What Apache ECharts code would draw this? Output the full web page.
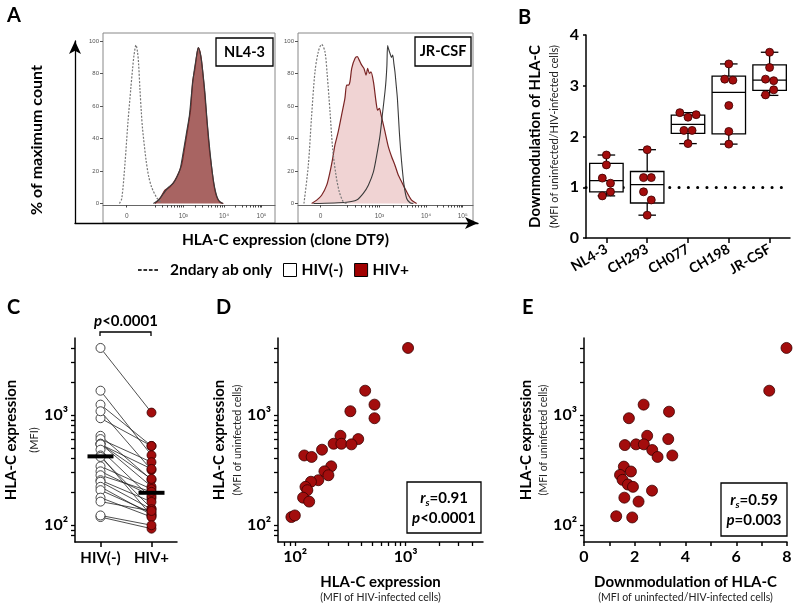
<!DOCTYPE html>
<html><head><meta charset="utf-8">
<script src="https://cdn.jsdelivr.net/npm/echarts@6/dist/echarts.min.js"></script>
<style>html,body{margin:0;padding:0;background:#fff}#c{width:800px;height:613px}</style>
</head><body><div id="c"></div>
<script>
// ---------------- DATA ----------------
// Panel A: flow histograms, x in display channel units (0-1000), y in % of max count
const a1TickPos = [138, 467, 703, 922];
const a2TickPos = [129, 465, 731, 941];
const aTickLabels = ['0', '10³', '10⁴', '10⁵'];
const aYTicks = [0, 20, 40, 60, 80, 100];

const nl43SecX = [95,109,128,145,161,172,180,192,201,207,215,223,230,250,265,283,316,341];
const nl43SecY = [0,3,25,50,70,83,91,97.6,93,86,70,56,46,27,17,10,3,0.5];
const nl43PosX = [302,331,360,390,419,438,457,477,496,510,521,535,545,554,564,574,587,603,618,632,645,661,680,700];
const nl43PosY = [0,3.1,8.2,10.3,14.4,18.5,23.6,36,48.3,58.6,75,83.2,91.4,95.9,93.5,87.3,72.9,52.4,33.9,21.6,11.3,4.1,0.8,0];
const nl43NegX = [293,322,351,380,409,428,448,467,486,502,515,529,541,554,568,579,593,606,622,637,653,672,696];
const nl43NegY = [0,2,6,10,12.5,16,21,32,44,54,68,81,89,96,91,82,68,50,32,18,8,2,0];

const jrSecX = [34,59,78,97,116,135,154,167,183,198,217,236,259,278];
const jrSecY = [0,23.6,54.4,81.1,93.5,98,93.5,79.1,56.5,33.9,17.5,7.2,1,0];
const jrPosX = [78,107,135,164,183,198,211,230,249,268,278,288,297,307,326,339,350,364,377,389,398,408,417,431,446,455,465,475,497,516,535,554,573,592,621,649,678];
const jrPosY = [0,2.1,5.1,11.3,19.5,27.7,36,44.2,54.4,64.7,72.9,72.9,75,83.2,89.4,90.4,88.3,85.2,83.2,79.1,83.2,80.1,81.1,75,62.6,57.5,58.6,54.4,44.2,35,28.8,23.6,17.5,13.4,7.2,2.1,0];
const jrNegX = [88,278,335,373,402,431,450,469,484,497,503,508,512,518,526,534,541,548,554,561,568,579,592,606,621,640,659];
const jrNegY = [0,0.8,2.1,6.2,11.3,19.5,29.8,42.1,56.5,68.8,76,85,97.2,95,92.4,90,91.4,86,81.1,73,64.7,44.2,25.7,11.3,3.1,0.5,0];

// Panel B: downmodulation per virus
const bCats = ['NL4-3', 'CH293', 'CH077', 'CH198', 'JR-CSF'];
const boxMin = [0.83, 0.45, 1.86, 1.85, 2.81];
const boxQ1  = [0.91, 0.69, 2.06, 2.05, 2.91];
const boxMed = [1.13, 1.05, 2.24, 2.87, 3.11];
const boxQ3  = [1.47, 1.31, 2.42, 3.19, 3.41];
const boxMax = [1.635, 1.74, 2.47, 3.43, 3.66];
const dotsNL43  = [1.635, 1.44, 1.18, 1.08, 0.91, 0.83];
const dotsCH293 = [1.74, 1.19, 1.19, 0.91, 0.75, 0.45];
const dotsCH077 = [2.47, 2.38, 2.43, 2.12, 2.12, 1.86];
const dotsCH198 = [3.43, 3.13, 3.11, 2.61, 2.10, 1.85];
const dotsJRCSF = [3.66, 3.36, 3.13, 3.10, 2.92, 2.82];
const jitNL43  = [0, 0, -0.1, 0.1, 0.1, -0.1];
const jitCH293 = [0, -0.09, 0.1, -0.09, 0.1, 0];
const jitCH077 = [-0.2, 0, 0.2, -0.1, 0.1, 0];
const jitCH198 = [0, -0.1, 0.1, 0, 0, 0];
const jitJRCSF = [0, 0, -0.1, 0.1, 0.1, -0.1];
const refLevel = 1;

// Panels C/D: MFI of uninfected (HIV(-)) and HIV-infected (HIV+) cells per donor
const mfiUninf = [4060,1660,1240,933,1080,646,603,547,547,540,483,428,415,341,307,283,255,247,222,207,177,163,118,122];
const mfiInf   = [1050,430,522,522,316,257,372,223,262,323,175,121,141,212,184,200,162,139,124,129,118,134,92.5,99.4];
const cCats = ['HIV(-)', 'HIV+'];
const cMeans = [420, 196];

// Panel E: downmodulation vs MFI of uninfected cells
const eDown = [7.98,7.30,2.35,3.35,1.77,2.49,3.32,1.61,2.05,2.36,2.69,2.90,3.48,1.57,1.85,1.42,1.52,1.73,1.93,2.68,1.59,2.15,1.27,1.90];
const eMfi  = [4060,1660,1240,1070,933,646,603,532,540,540,480,415,428,339,306,285,257,233,222,205,177,163,120,117];

const logTickVals = [100, 1000];
const logTickLabels = ['10²', '10³'];
const logMinorTicks = [80, 90, 200, 300, 400, 500, 600, 700, 800, 900, 2000, 3000, 4000];
const eLabelVals = [0, 2, 4, 6, 8];

// ---------------- HELPERS ----------------
const FONT = 'Lato';
const RED = '#a30d0d', RED_BORDER = '#3a0000';
const zip = (a, b) => a.map((x, i) => [x, b[i]]);
const axisBlack = {color: '#000', width: 1.5};
const tickFont = {fontFamily: FONT, fontWeight: 'bold', fontSize: 16, color: '#000'};
const logAllTicks = logTickVals.concat(logMinorTicks).sort((a, b) => a - b);

function histMinor(p) {
  const out = [];
  const d1 = p[2] - p[1], d2 = p[3] - p[2];
  for (let k = 2; k <= 9; k++) {
    const l = Math.log10(k);
    out.push(p[1] - d1 * (1 - l), p[1] + d1 * l, p[2] + d2 * l);
  }
  return out;
}
function histX(gridIndex, ticks) {
  return {type: 'value', gridIndex, min: 0, max: 1000, position: 'bottom', offset: -18,
     axisLine: {show: true, onZero: false, lineStyle: {color: '#666', width: 1}},
     axisTick: {show: true, customValues: ticks.concat(histMinor(ticks)).sort((a, b) => a - b), length: 2.5, lineStyle: {color: '#444'}},
     axisLabel: {customValues: ticks, formatter: v => aTickLabels[ticks.indexOf(Math.round(v))] ?? '',
                 fontSize: 6.5, color: '#555', margin: 8, fontFamily: 'Liberation Sans'},
     splitLine: {show: false}};
}
function histY(gridIndex) {
  return {type: 'value', gridIndex, min: -12, max: 105, position: 'left',
    axisLine: {show: false, onZero: false},
    axisTick: {show: true, customValues: aYTicks, length: 3, lineStyle: {color: '#555'}},
    axisLabel: {customValues: aYTicks, fontSize: 6, color: '#555', margin: 4, fontFamily: 'Liberation Sans'},
    splitLine: {show: false}};
}
function logAxis(gridIndex, pos, extra) {
  return Object.assign({type: 'log', gridIndex, min: 70, max: 5000, logBase: 10, position: pos,
      axisLine: {show: true, onZero: false, lineStyle: axisBlack},
      axisTick: {show: true, customValues: logAllTicks, length: 4, lineStyle: {color: '#000', width: 1.3}},
      axisLabel: Object.assign({customValues: logTickVals,
        formatter: v => logTickLabels[logTickVals.indexOf(Math.round(v))] ?? '', margin: 7}, tickFont),
      splitLine: {show: false}}, extra);
}
function twoLineName(main, sub, mainLH, subLH, subSize) {
  return {
    name: '{a|' + main + '}\n{b|' + sub + '}',
    nameLocation: 'middle',
    nameTextStyle: {rich: {
      a: {fontFamily: FONT, fontWeight: 'bold', fontSize: 15, lineHeight: mainLH, color: '#000'},
      b: {fontFamily: FONT, fontSize: subSize, lineHeight: subLH, color: '#222'}
    }}
  };
}
function oneLineName(text, size, padding) {
  return {
    name: '{a|' + text + '}', nameLocation: 'middle',
    nameTextStyle: {padding: padding, rich: {a: {fontFamily: FONT, fontWeight: 'bold', fontSize: size, lineHeight: size + 3, color: '#000'}}}
  };
}

// ---------------- OPTION ----------------
const grids = [
  {left: 75, top: 41, width: 403, height: 182},
  {left: 103, top: 33, width: 172, height: 190, show: true, borderColor: '#888', borderWidth: 1},
  {left: 298, top: 33, width: 175, height: 190, show: true, borderColor: '#888', borderWidth: 1},
  {left: 586, top: 35, width: 204, height: 203},
  {left: 75, top: 338, width: 102, height: 204},
  {left: 278, top: 338, width: 205, height: 204},
  {left: 584, top: 338, width: 203, height: 204}
];

const xAxes = [
  Object.assign({type: 'value', gridIndex: 0, min: 0, max: 1,
   axisLine: {show: true, onZero: false, symbol: ['none', 'arrow'], symbolSize: [9, 13], lineStyle: {color: '#000', width: 1.3}},
   axisTick: {show: false}, axisLabel: {show: false}, splitLine: {show: false}, nameGap: 8},
   oneLineName('HLA-C expression (clone DT9)', 15.5, [0, 0, 0, 18])),
  histX(1, a1TickPos),
  histX(2, a2TickPos),
  {type: 'category', gridIndex: 3, data: bCats, position: 'bottom',
   axisLine: {show: true, onZero: false, lineStyle: axisBlack},
   axisTick: {show: true, alignWithLabel: true, length: 5, lineStyle: axisBlack},
   axisLabel: {interval: 0, rotate: 30, fontFamily: FONT, fontWeight: 'bold', fontSize: 14, color: '#000', margin: 10},
   splitLine: {show: false}},
  {type: 'value', gridIndex: 3, min: -0.5, max: 4.5, show: false, position: 'bottom'},
  {type: 'category', gridIndex: 4, data: cCats, position: 'bottom',
   axisLine: {show: true, onZero: false, lineStyle: axisBlack},
   axisTick: {show: true, alignWithLabel: true, length: 5, lineStyle: axisBlack},
   axisLabel: Object.assign({interval: 0, margin: 9}, tickFont, {fontSize: 15}),
   splitLine: {show: false}},
  logAxis(5, 'bottom', Object.assign(twoLineName('HLA-C expression', '(MFI of HIV-infected cells)', 17, 13, 10.5), {nameGap: 32})),
  Object.assign({type: 'value', gridIndex: 6, min: 0, max: 8, interval: 1, position: 'bottom',
   axisLine: {show: true, onZero: false, lineStyle: axisBlack},
   axisTick: {show: true, length: 4, lineStyle: axisBlack},
   axisLabel: Object.assign({customValues: eLabelVals, margin: 7}, tickFont),
   splitLine: {show: false}, nameGap: 32},
   twoLineName('Downmodulation of HLA-C', '(MFI of uninfected/HIV-infected cells)', 17, 13, 10.5))
];

const yAxes = [
  Object.assign({type: 'value', gridIndex: 0, min: 0, max: 1,
   axisLine: {show: true, onZero: false, symbol: ['none', 'arrow'], symbolSize: [9, 13], lineStyle: {color: '#000', width: 1.3}},
   axisTick: {show: false}, axisLabel: {show: false}, splitLine: {show: false}, nameRotate: 90, nameGap: 29},
   oneLineName('% of maximum count', 16, [0, 16, 0, 0])),
  histY(1),
  histY(2),
  Object.assign({type: 'value', gridIndex: 3, min: 0, max: 4, interval: 1, position: 'left',
   axisLine: {show: true, onZero: false, lineStyle: axisBlack},
   axisTick: {show: true, length: 3, lineStyle: axisBlack},
   axisLabel: Object.assign({margin: 7}, tickFont),
   splitLine: {show: false}, nameRotate: 90, nameGap: 23},
   twoLineName('Downmodulation of HLA-C', '(MFI of uninfected/HIV-infected cells)', 20, 18, 11)),
  logAxis(4, 'left', Object.assign(twoLineName('HLA-C expression', '(MFI)', 26, 22, 11), {nameRotate: 90, nameGap: 25})),
  logAxis(5, 'left', Object.assign(twoLineName('HLA-C expression', '(MFI of uninfected cells)', 20, 17, 10.5), {nameRotate: 90, nameGap: 27})),
  logAxis(6, 'left', Object.assign(twoLineName('HLA-C expression', '(MFI of uninfected cells)', 19, 16, 10.5), {nameRotate: 90, nameGap: 29}))
];

function histSeries(xi, yi, posX, posY, negX, negY, secX, secY, fill) {
  return [
    {type: 'line', name: 'HIV+', xAxisIndex: xi, yAxisIndex: yi, data: zip(posX, posY), symbol: 'none', smooth: 0.25,
     lineStyle: {color: '#7a2424', width: 1.2}, areaStyle: {color: fill, opacity: 1}, itemStyle: {color: '#a00000'}, z: 2, silent: true},
    {type: 'line', name: 'HIV(-)', xAxisIndex: xi, yAxisIndex: yi, data: zip(negX, negY), symbol: 'none', smooth: 0.25,
     lineStyle: {color: '#3a3a3a', width: 1.1}, itemStyle: {color: '#fff'}, z: 3, silent: true},
    {type: 'line', name: '2ndary ab only', xAxisIndex: xi, yAxisIndex: yi, data: zip(secX, secY), symbol: 'none', smooth: 0.3,
     lineStyle: {color: '#777', width: 1.2, type: [2, 1.5]}, itemStyle: {color: '#333'}, z: 4, silent: true}
  ];
}

const bDots = [dotsNL43, dotsCH293, dotsCH077, dotsCH198, dotsJRCSF];
const bJit = [jitNL43, jitCH293, jitCH077, jitCH198, jitJRCSF];
const bDotData = bDots.flatMap((vals, i) => vals.map((v, j) => [i + bJit[i][j], v]));

const pairSeries = mfiUninf.map((u, i) => ({
  type: 'line', xAxisIndex: 5, yAxisIndex: 4, data: [u, mfiInf[i]], symbol: 'none',
  lineStyle: {color: '#222', width: 0.8}, z: 2, silent: true
}));

const series = [
  ...histSeries(1, 1, nl43PosX, nl43PosY, nl43NegX, nl43NegY, nl43SecX, nl43SecY, '#a86462'),
  ...histSeries(2, 2, jrPosX, jrPosY, jrNegX, jrNegY, jrSecX, jrSecY, '#f0d3d3'),
  {type: 'line', xAxisIndex: 4, yAxisIndex: 3, data: [], z: 1, silent: true,
   markLine: {silent: true, symbol: 'none', label: {show: false}, z: 1,
              lineStyle: {type: [0.1, 9.2], width: 3, color: '#000', cap: 'round'}, data: [{yAxis: refLevel}]}},
  {type: 'custom', xAxisIndex: 3, yAxisIndex: 3, z: 3, silent: true,
   data: bCats.map((c, i) => [i, boxMin[i], boxQ1[i], boxMed[i], boxQ3[i], boxMax[i]]),
   encode: {x: 0, y: [1, 2, 3, 4, 5]},
   renderItem: function (params, api) {
     const i = api.value(0);
     const pMin = api.coord([i, api.value(1)]), pQ1 = api.coord([i, api.value(2)]),
           pMed = api.coord([i, api.value(3)]), pQ3 = api.coord([i, api.value(4)]), pMax = api.coord([i, api.value(5)]);
     const band = api.size([1, 0])[0];
     const bw = band * 0.82, cw = band * 0.43, x = pMed[0];
     const ls = {stroke: '#000', lineWidth: 1.3, fill: null};
     return {type: 'group', children: [
       {type: 'line', shape: {x1: x, y1: pMax[1], x2: x, y2: pQ3[1]}, style: ls},
       {type: 'line', shape: {x1: x, y1: pQ1[1], x2: x, y2: pMin[1]}, style: ls},
       {type: 'line', shape: {x1: x - cw / 2, y1: pMax[1], x2: x + cw / 2, y2: pMax[1]}, style: ls},
       {type: 'line', shape: {x1: x - cw / 2, y1: pMin[1], x2: x + cw / 2, y2: pMin[1]}, style: ls},
       {type: 'rect', shape: {x: x - bw / 2, y: pQ3[1], width: bw, height: pQ1[1] - pQ3[1]}, style: {stroke: '#000', lineWidth: 1.3, fill: '#fff'}},
       {type: 'line', shape: {x1: x - bw / 2, y1: pMed[1], x2: x + bw / 2, y2: pMed[1]}, style: ls}
     ]};
   }},
  {type: 'scatter', xAxisIndex: 4, yAxisIndex: 3, data: bDotData, symbolSize: 8, z: 4, silent: true,
   itemStyle: {color: RED, borderColor: RED_BORDER, borderWidth: 0.8, opacity: 1}},
  ...pairSeries,
  {type: 'scatter', xAxisIndex: 5, yAxisIndex: 4, data: mfiUninf.map(v => [0, v]), symbolSize: 9, z: 3, silent: true,
   itemStyle: {color: '#fff', borderColor: '#333', borderWidth: 0.9, opacity: 1}},
  {type: 'scatter', xAxisIndex: 5, yAxisIndex: 4, data: mfiInf.map(v => [1, v]), symbolSize: 9, z: 3, silent: true,
   itemStyle: {color: RED, borderColor: RED_BORDER, borderWidth: 0.8, opacity: 1}},
  {type: 'scatter', xAxisIndex: 5, yAxisIndex: 4, data: cMeans.map((v, i) => [i, v]), symbol: 'rect', symbolSize: [26, 4], z: 4, silent: true,
   itemStyle: {color: '#000', opacity: 1}},
  {type: 'scatter', xAxisIndex: 6, yAxisIndex: 5, data: zip(mfiInf, mfiUninf), symbolSize: 11, z: 3, silent: true,
   itemStyle: {color: RED, borderColor: RED_BORDER, borderWidth: 0.8, opacity: 1}},
  {type: 'scatter', xAxisIndex: 7, yAxisIndex: 6, data: zip(eDown, eMfi), symbolSize: 11, z: 3, silent: true,
   itemStyle: {color: RED, borderColor: RED_BORDER, borderWidth: 0.8, opacity: 1}}
];

const legendText = {fontFamily: FONT, fontWeight: 'bold', fontSize: 15.5, color: '#000'};
const legends = [
  {data: [{name: '2ndary ab only', icon: 'path://M0,0h4v2h-4z M6,0h4v2h-4z M12,0h4v2h-4z M18,0h4v2h-4z', itemStyle: {color: '#333'}}],
   left: 133, top: 257, itemWidth: 20, itemHeight: 13, selectedMode: false,
   textStyle: Object.assign({padding: [0, 0, 0, 7]}, legendText)},
  {data: [{name: 'HIV(-)', icon: 'rect', itemStyle: {color: '#fff', borderColor: '#000', borderWidth: 1}},
          {name: 'HIV+', icon: 'rect', itemStyle: {color: '#a00000', borderColor: '#000', borderWidth: 1}}],
   left: 278, top: 257, itemWidth: 13, itemHeight: 13, itemGap: 11, selectedMode: false, textStyle: legendText}
];

const letter = (t, x, y) => ({type: 'text', x, y, z: 100, style: {text: t, fontFamily: FONT, fontWeight: 'bold', fontSize: 20, fill: '#000'}});
const richStat = {
  i: {fontFamily: FONT, fontStyle: 'italic', fontWeight: 'bold', fontSize: 15, lineHeight: 20, fill: '#000'},
  s: {fontFamily: FONT, fontStyle: 'italic', fontWeight: 'bold', fontSize: 10, fill: '#000', verticalAlign: 'bottom'},
  n: {fontFamily: FONT, fontWeight: 'bold', fontSize: 15, lineHeight: 20, fill: '#000'}
};
const graphics = [
  letter('A', 7, 6), letter('B', 518, 8), letter('C', 7, 298), letter('D', 216, 298), letter('E', 522, 298),
  {type: 'rect', z: 100, shape: {x: 216, y: 38, width: 57, height: 28}, style: {fill: '#fff', stroke: '#000', lineWidth: 1.3}},
  {type: 'text', z: 101, x: 244.5, y: 52, style: {text: 'NL4-3', fontFamily: FONT, fontWeight: 'bold', fontSize: 14.5, fill: '#000', align: 'center', verticalAlign: 'middle'}},
  {type: 'rect', z: 100, shape: {x: 415, y: 37, width: 56, height: 29}, style: {fill: '#fff', stroke: '#000', lineWidth: 1.3}},
  {type: 'text', z: 101, x: 443, y: 51.5, style: {text: 'JR-CSF', fontFamily: FONT, fontWeight: 'bold', fontSize: 14.5, fill: '#000', align: 'center', verticalAlign: 'middle'}},
  {type: 'polyline', z: 100, shape: {points: [[100, 336], [100, 332], [151, 332], [151, 336]]}, style: {stroke: '#000', lineWidth: 1.3, fill: null}},
  {type: 'text', z: 101, x: 126, y: 321, style: {text: '{i|p}{n|<0.0001}', rich: richStat, align: 'center', verticalAlign: 'middle'}},
  {type: 'rect', z: 100, shape: {x: 407, y: 482, width: 74, height: 51}, style: {fill: '#fff', stroke: '#000', lineWidth: 1.3}},
  {type: 'text', z: 101, x: 444, y: 508, style: {text: '{i|r}{s|s}{n|=0.91}\n{i|p}{n|<0.0001}', rich: richStat, align: 'center', verticalAlign: 'middle'}},
  {type: 'rect', z: 100, shape: {x: 721, y: 483, width: 66, height: 53}, style: {fill: '#fff', stroke: '#000', lineWidth: 1.3}},
  {type: 'text', z: 101, x: 754, y: 510, style: {text: '{i|r}{s|s}{n|=0.59}\n{i|p}{n|=0.003}', rich: richStat, align: 'center', verticalAlign: 'middle'}}
];

const chart = echarts.init(document.getElementById('c'), null, {renderer: 'canvas'});
chart.setOption({
  animation: false,
  backgroundColor: '#fff',
  textStyle: {fontFamily: FONT},
  grid: grids,
  xAxis: xAxes,
  yAxis: yAxes,
  legend: legends,
  series: series,
  graphic: graphics
});
</script>
</body></html>
